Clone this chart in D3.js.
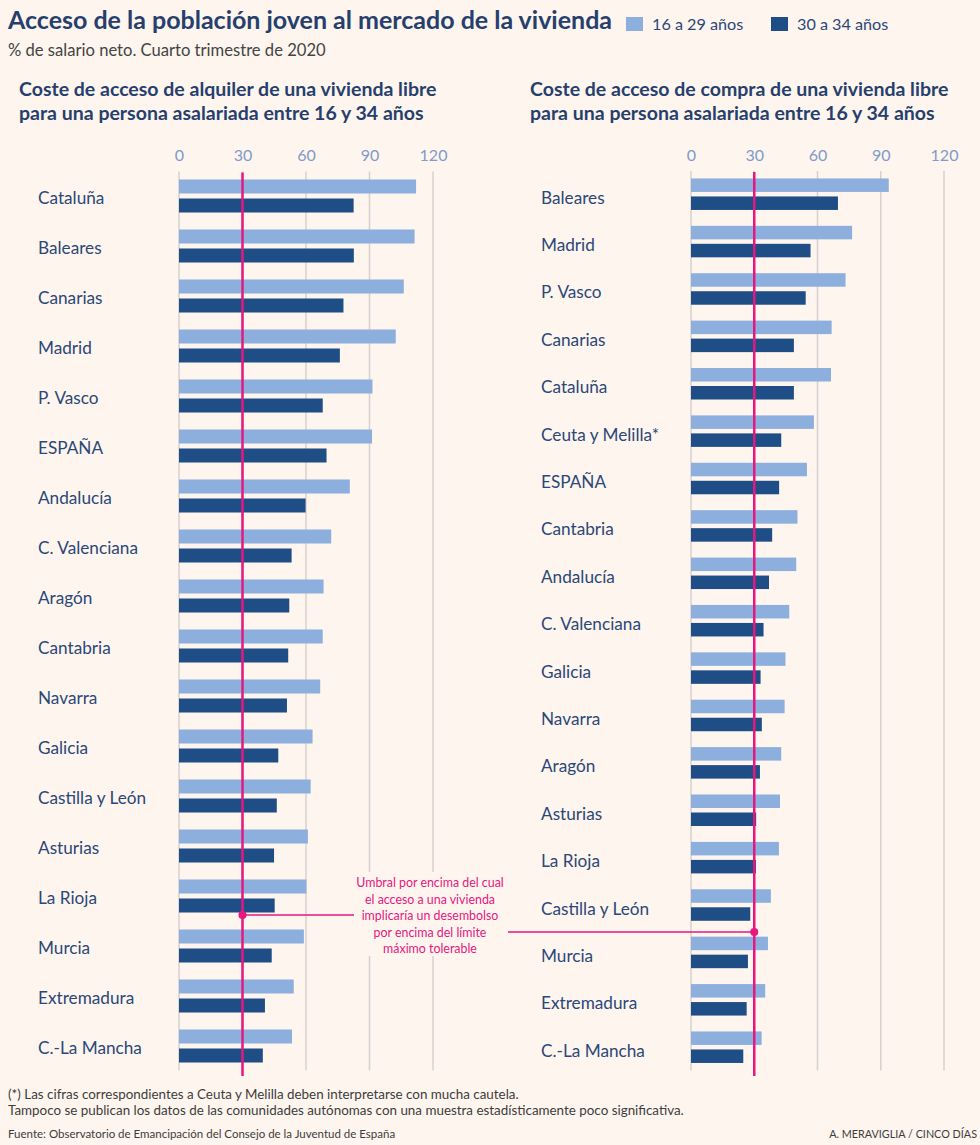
<!DOCTYPE html>
<html>
<head>
<meta charset="utf-8">
<script src="https://cdn.jsdelivr.net/npm/d3@7"></script>
<style>
  body { margin: 0; background: #fdf5ee; }
  svg { display: block; font-family: Lato, "Noto Sans", sans-serif; }
</style>
</head>
<body>
<div id="chart-area"></div>
<script>
/*
*    Acceso de la población joven al mercado de la vivienda
*/

// datos: alquiler (panel izquierdo)
const regionesAlquiler = ["Cataluña", "Baleares", "Canarias", "Madrid", "P. Vasco", "ESPAÑA",
    "Andalucía", "C. Valenciana", "Aragón", "Cantabria", "Navarra", "Galicia",
    "Castilla y León", "Asturias", "La Rioja", "Murcia", "Extremadura", "C.-La Mancha"]
const alquiler1629 = [112, 111.3, 106.2, 102.4, 91.4, 91.2, 80.7, 71.9, 68.3, 67.9, 66.7, 63.1,
    62.2, 60.9, 60.2, 59, 54.2, 53.4]
const alquiler3034 = [82.5, 82.6, 77.7, 76, 67.9, 69.7, 59.8, 53.2, 52.1, 51.6, 51, 46.9,
    46.2, 44.9, 45.2, 43.8, 40.6, 39.6]

// datos: compra (panel derecho)
const regionesCompra = ["Baleares", "Madrid", "P. Vasco", "Canarias", "Cataluña", "Ceuta y Melilla*",
    "ESPAÑA", "Cantabria", "Andalucía", "C. Valenciana", "Galicia", "Navarra", "Aragón",
    "Asturias", "La Rioja", "Castilla y León", "Murcia", "Extremadura", "C.-La Mancha"]
const compra1629 = [93.8, 76.4, 73.3, 66.7, 66.4, 58.3, 55, 50.5, 49.9, 46.6, 44.8, 44.4, 42.8,
    42.2, 41.7, 37.9, 36.5, 35.2, 33.5]
const compra3034 = [69.7, 56.7, 54.4, 48.8, 48.8, 42.8, 41.8, 38.5, 37, 34.4, 33, 33.6, 32.7,
    30.9, 30.8, 28.1, 27, 26.4, 24.8]

const tickValues = [0, 30, 60, 90, 120]
const umbral = 30
const series = ["16 a 29 años", "30 a 34 años"]

const colorClaro = "#8dafdd", colorOscuro = "#1f4d86", rosa = "#e6187f"
const colorTexto = "#2b4878", colorTitulo = "#263f6d", colorTick = "#7e9cc8", colorGrid = "#d8d0cf"

const width = 980, height = 1145

const svg = d3.select("#chart-area")
    .append("svg")
        .attr("width", width)
        .attr("height", height)

svg.append("rect").attr("width", width).attr("height", height).attr("fill", "#fdf5ee")

// Cabecera
svg.append("text")
    .attr("x", 8).attr("y", 29)
    .attr("font-size", 25).attr("font-weight", 700)
    .attr("fill", colorTitulo)
    .attr("textLength", 604).attr("lengthAdjust", "spacingAndGlyphs")
    .text("Acceso de la población joven al mercado de la vivienda")

svg.append("text")
    .attr("x", 8).attr("y", 56)
    .attr("font-size", 16.6).attr("fill", "#444")
    .text("% de salario neto. Cuarto trimestre de 2020")

// Leyenda
let legend = svg.append("g")
series.forEach(function(s, i){
    let row = legend.append("g")
        .attr("transform", "translate(" + (626 + i * 145) + ", 17)")
    row.append("rect")
        .attr("width", 17).attr("height", 14)
        .attr("fill", i == 0 ? colorClaro : colorOscuro)
    row.append("text")
        .attr("x", 26).attr("y", 13)
        .attr("font-size", 16.2).attr("fill", colorTexto)
        .text(s)
})

function panel(opts){
    let g = svg.append("g")

    // subtitulo en dos lineas
    opts.titulo.forEach(function(line, i){
        g.append("text")
            .attr("x", opts.tituloX).attr("y", 96 + i * 24)
            .attr("font-size", 19.5).attr("font-weight", 700)
            .attr("fill", colorTitulo)
            .text(line)
    })

    let x = d3.scaleLinear().domain([0, 120]).range(opts.xRange)
    let y = d3.scaleBand().domain(opts.regiones).range(opts.yRange)
    let bw = y.bandwidth()

    // rejilla
    g.selectAll(".grid")
        .data(tickValues)
        .join("line")
            .attr("class", "grid")
            .attr("x1", d => x(d)).attr("x2", d => x(d))
            .attr("y1", opts.yRange[0]).attr("y2", opts.yRange[1] - 1)
            .attr("stroke", colorGrid).attr("stroke-width", 1.5)

    let axis = d3.axisTop(x).tickValues(tickValues).tickSize(0).tickPadding(0)
    let ax = g.append("g")
        .attr("transform", "translate(0, 161)")
        .call(axis)
    ax.select(".domain").remove()
    ax.selectAll("text")
        .attr("font-family", "Lato, 'Noto Sans', sans-serif")
        .attr("font-size", 16).attr("fill", colorTick)

    // barras
    let filas = g.selectAll(".fila")
        .data(opts.regiones)
        .join("g")
            .attr("class", "fila")
            .attr("transform", d => "translate(0," + (y(d) + bw / 2) + ")")

    filas.append("rect")
        .attr("x", x(0))
        .attr("y", -opts.barH - opts.gap / 2 - 0.5)
        .attr("height", opts.barH)
        .attr("width", (d, i) => x(opts.v1[i]) - x(0))
        .attr("fill", colorClaro)

    filas.append("rect")
        .attr("x", x(0))
        .attr("y", opts.gap / 2 - 0.5)
        .attr("height", opts.barH)
        .attr("width", (d, i) => x(opts.v2[i]) - x(0))
        .attr("fill", colorOscuro)

    filas.append("text")
        .attr("x", opts.labelX).attr("y", opts.labelDy)
        .attr("font-size", 17.2).attr("fill", colorTexto)
        .text(d => d)

    // linea de umbral
    g.append("line")
        .attr("x1", x(umbral)).attr("x2", x(umbral))
        .attr("y1", opts.yRange[0] + 1).attr("y2", 1076)
        .attr("stroke", rosa).attr("stroke-width", 2.5)

    return x
}

let xAlq = panel({
    titulo: ["Coste de acceso de alquiler de una vivienda libre", "para una persona asalariada entre 16 y 34 años"],
    tituloX: 19,
    regiones: regionesAlquiler, v1: alquiler1629, v2: alquiler3034,
    xRange: [179, 433], yRange: [171.5, 1071.5],
    barH: 14, gap: 5, labelX: 38, labelDy: 7
})

let xCom = panel({
    titulo: ["Coste de acceso de compra de una vivienda libre", "para una persona asalariada entre 16 y 34 años"],
    tituloX: 530,
    regiones: regionesCompra, v1: compra1629, v2: compra3034,
    xRange: [691, 944], yRange: [171, 1071.4],
    barH: 13.5, gap: 4.5, labelX: 541, labelDy: 9
})

// Anotacion
const notaLineas = ["Umbral por encima del cual", "el acceso a una vivienda",
    "implicaría un desembolso", "por encima del límite", "máximo tolerable"]

svg.append("rect")
    .attr("x", 356).attr("y", 872).attr("width", 150).attr("height", 84)
    .attr("fill", "#fdf5ee")

svg.append("line")
    .attr("x1", xAlq(umbral)).attr("x2", 354)
    .attr("y1", 915).attr("y2", 915)
    .attr("stroke", rosa).attr("stroke-width", 1.5)
svg.append("circle")
    .attr("cx", xAlq(umbral)).attr("cy", 915).attr("r", 4)
    .attr("fill", rosa)

svg.append("line")
    .attr("x1", 508).attr("x2", xCom(umbral))
    .attr("y1", 932).attr("y2", 932)
    .attr("stroke", rosa).attr("stroke-width", 1.5)
svg.append("circle")
    .attr("cx", xCom(umbral)).attr("cy", 932).attr("r", 4)
    .attr("fill", rosa)

svg.selectAll(".nota")
    .data(notaLineas)
    .join("text")
        .attr("class", "nota")
        .attr("x", 430).attr("y", (d, i) => 887 + i * 16.6)
        .attr("text-anchor", "middle")
        .attr("font-size", 12.4).attr("fill", rosa)
        .text(d => d)

// Pie
svg.append("text")
    .attr("x", 8).attr("y", 1099)
    .attr("font-size", 13.4).attr("fill", "#3d3d3d")
    .text("(*) Las cifras correspondientes a Ceuta y Melilla deben interpretarse con mucha cautela.")
svg.append("text")
    .attr("x", 8).attr("y", 1115)
    .attr("font-size", 13.4).attr("fill", "#3d3d3d")
    .text("Tampoco se publican los datos de las comunidades autónomas con una muestra estadísticamente poco significativa.")
svg.append("text")
    .attr("x", 8).attr("y", 1138)
    .attr("font-size", 11.5).attr("fill", "#3d3d3d")
    .text("Fuente: Observatorio de Emancipación del Consejo de la Juventud de España")
svg.append("text")
    .attr("x", 977).attr("y", 1138)
    .attr("text-anchor", "end")
    .attr("font-size", 10.8).attr("fill", "#3d3d3d")
    .text("A. MERAVIGLIA / CINCO DÍAS")
</script>
</body>
</html>
